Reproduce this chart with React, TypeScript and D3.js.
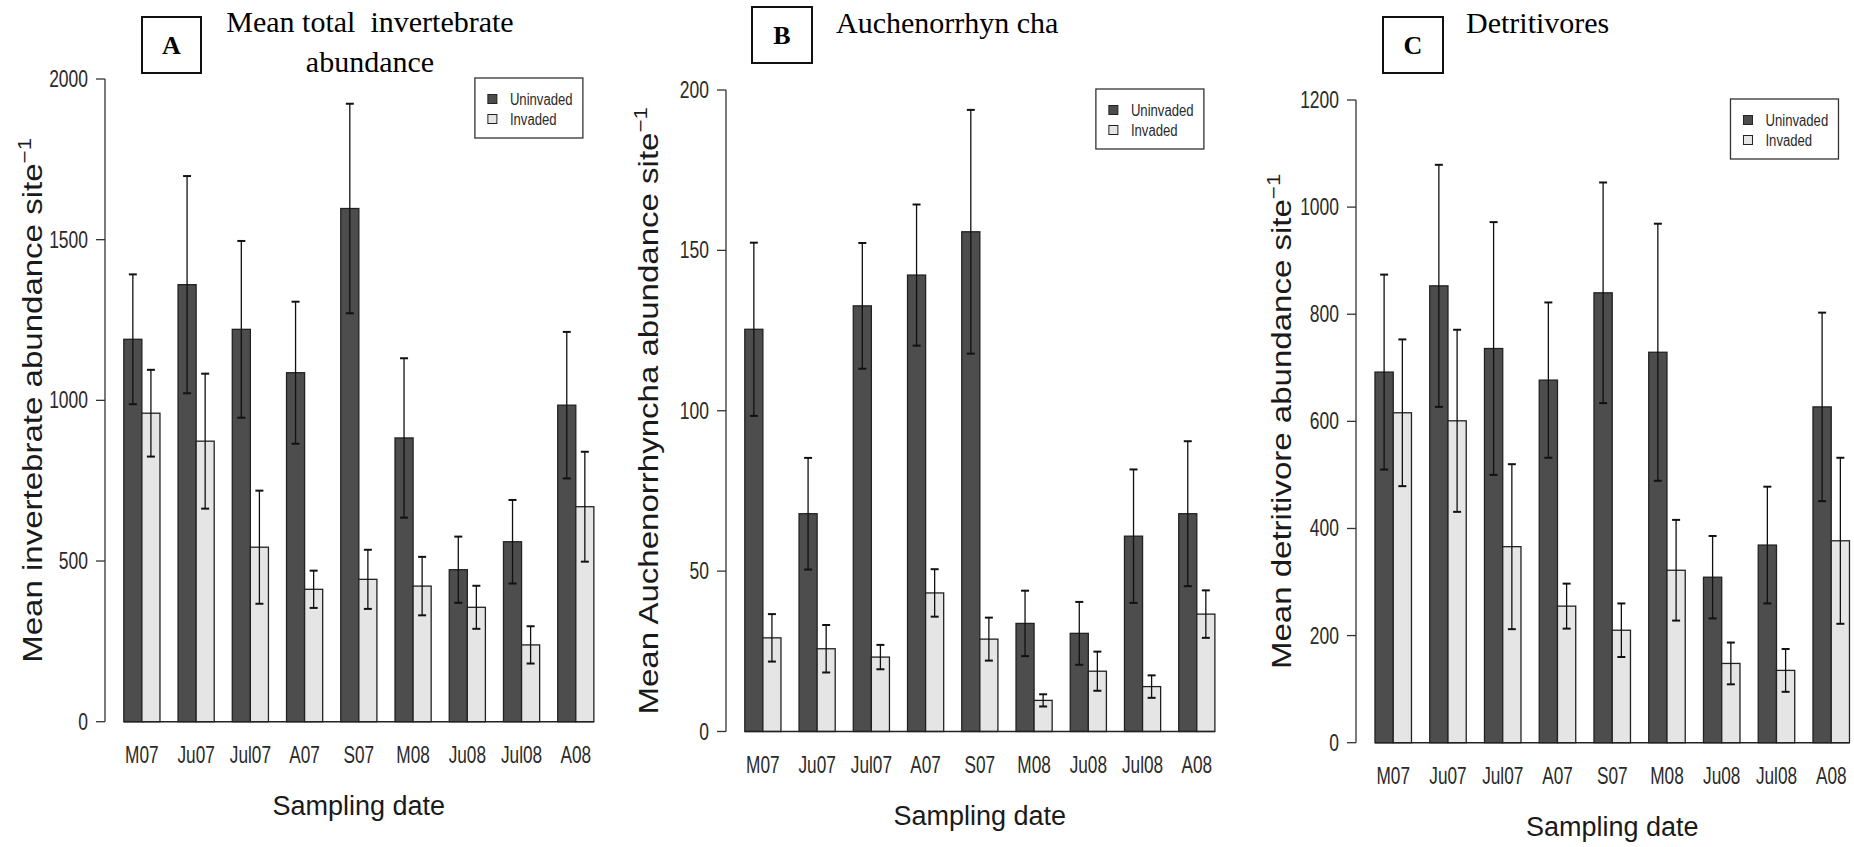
import React from "react";
import * as d3 from "d3";

// Sampling dates (x categories)
const dates = ["M07", "Ju07", "Jul07", "A07", "S07", "M08", "Ju08", "Jul08", "A08"];
const groups = ["Uninvaded", "Invaded"];

// Panel A: mean total invertebrate abundance per site (mean, SE)
const totalUninvaded = [1190, 1360, 1221, 1086, 1597, 883, 473, 560, 985];
const totalUninvadedSE = [202, 338, 275, 221, 326, 248, 103, 130, 228];
const totalInvaded = [960, 873, 543, 412, 443, 422, 356, 239, 669];
const totalInvadedSE = [135, 210, 176, 58, 92, 91, 67, 58, 171];
const totalTicks = [0, 500, 1000, 1500, 2000];

// Panel B: Auchenorrhyncha
const auchUninvaded = [125.4, 67.9, 132.7, 142.3, 155.8, 33.7, 30.6, 60.9, 67.9];
const auchUninvadedSE = [27, 17.4, 19.6, 22, 38, 10.2, 9.8, 20.8, 22.6];
const auchInvaded = [29.2, 25.8, 23.2, 43.2, 28.8, 9.7, 18.8, 14, 36.6];
const auchInvadedSE = [7.4, 7.4, 3.8, 7.4, 6.7, 1.9, 6.1, 3.5, 7.4];
const auchTicks = [0, 50, 100, 150, 200];

// Panel C: detritivores
const detUninvaded = [692, 853, 736, 677, 840, 729, 309, 369, 627];
const detUninvadedSE = [182, 226, 236, 145, 206, 240, 77, 109, 176];
const detInvaded = [616, 601, 366, 255, 210, 322, 148, 135, 377];
const detInvadedSE = [137, 170, 154, 42, 50, 94, 39, 40, 155];
const detTicks = [0, 200, 400, 600, 800, 1000, 1200];

const SANS = "'Liberation Sans', Arial, Helvetica, sans-serif";
const SERIF = "'Liberation Serif', 'Times New Roman', Times, serif";
const FILLS = ["#4d4d4d", "#e5e5e5"];
const INK = "#1a1a1a";

type Panel = {
  letter: string;
  titleLines: string[];
  titleX: number;
  titleAnchor: "start" | "middle";
  titleY: number[];
  box: [number, number, number, number];
  yLabel: string;
  axisX: number;
  unit: number;
  y0: number;
  yTop: number;
  yMax: number;
  ticks: number[];
  yLabelGap: number;
  series: number[][];
  errors: number[][];
};

const panels: Panel[] = [
  {
    letter: "A",
    titleLines: ["Mean total\u00a0 invertebrate", "abundance"],
    titleX: 370,
    titleAnchor: "middle",
    titleY: [32, 72],
    box: [142, 17, 59, 56],
    yLabel: "Mean invertebrate abundance site",
    axisX: 105,
    unit: 18.08,
    y0: 721.7,
    yTop: 79,
    yMax: 2000,
    ticks: totalTicks,
    yLabelGap: 63,
    series: [totalUninvaded, totalInvaded],
    errors: [totalUninvadedSE, totalInvadedSE],
  },
  {
    letter: "B",
    titleLines: ["Auchenorrhyn cha"],
    titleX: 836,
    titleAnchor: "start",
    titleY: [33],
    box: [752, 7, 60, 56],
    yLabel: "Mean Auchenorrhyncha abundance site",
    axisX: 726,
    unit: 18.08,
    y0: 731.5,
    yTop: 90,
    yMax: 200,
    ticks: auchTicks,
    yLabelGap: 68,
    series: [auchUninvaded, auchInvaded],
    errors: [auchUninvadedSE, auchInvadedSE],
  },
  {
    letter: "C",
    titleLines: ["Detritivores"],
    titleX: 1466,
    titleAnchor: "start",
    titleY: [33],
    box: [1383, 17, 60, 56],
    yLabel: "Mean detritivore abundance site",
    axisX: 1356,
    unit: 18.25,
    y0: 742.7,
    yTop: 100,
    yMax: 1200,
    ticks: detTicks,
    yLabelGap: 65,
    series: [detUninvaded, detInvaded],
    errors: [detUninvadedSE, detInvadedSE],
  },
];

function BarPanel({ p }: { p: Panel }) {
  const n = dates.length;
  // barplot-style layout: one bar width of space before each pair of bars
  const xMin = 1;
  const xMax = 3 * n;
  const pad = (xMax - xMin) * 0.04;
  const x = d3
    .scaleLinear()
    .domain([xMin - pad, xMax + pad])
    .range([p.axisX, p.axisX + (xMax - xMin + 2 * pad) * p.unit]);
  const y = d3.scaleLinear().domain([0, p.yMax]).range([p.y0, p.yTop]);

  const plotMidY = (y(0) + y(p.yMax)) / 2;
  const barsLeft = x(xMin);
  const barsRight = x(xMax);
  const cap = 4;

  const legendW = 108;
  const legendH = 60;
  const legendX = barsRight - 11 - legendW;
  const legendY = y(p.yMax) - 1;

  return (
    <g>
      {/* panel letter box */}
      <rect
        x={p.box[0]}
        y={p.box[1]}
        width={p.box[2]}
        height={p.box[3]}
        fill="#fff"
        stroke="#111"
        strokeWidth={2}
      />
      <text
        x={p.box[0] + p.box[2] / 2}
        y={p.box[1] + p.box[3] / 2 + 9}
        textAnchor="middle"
        fontFamily={SERIF}
        fontWeight="bold"
        fontSize={26}
        fill="#000"
      >
        {p.letter}
      </text>

      {/* title */}
      {p.titleLines.map((t, i) => (
        <text
          key={i}
          x={p.titleX}
          y={p.titleY[i]}
          textAnchor={p.titleAnchor}
          fontFamily={SERIF}
          fontSize={30}
          fill="#000"
          style={{ whiteSpace: "pre" }}
        >
          {t}
        </text>
      ))}

      {/* bars */}
      {dates.map((d, i) =>
        p.series.map((s, k) => {
          const x0 = x(1 + 3 * i + k);
          const x1 = x(2 + 3 * i + k);
          return (
            <rect
              key={`${d}-${k}`}
              x={x0}
              y={y(s[i])}
              width={x1 - x0}
              height={y(0) - y(s[i])}
              fill={FILLS[k]}
              stroke="#222"
              strokeWidth={1.3}
            />
          );
        })
      )}

      {/* baseline */}
      <line x1={barsLeft} x2={barsRight} y1={y(0)} y2={y(0)} stroke="#222" strokeWidth={1.5} />

      {/* error bars */}
      {dates.map((d, i) =>
        p.series.map((s, k) => {
          const cx = x(1.5 + 3 * i + k);
          const hi = y(s[i] + p.errors[k][i]);
          const lo = y(s[i] - p.errors[k][i]);
          return (
            <g key={`e-${d}-${k}`} stroke="#111" strokeWidth={1.3}>
              <line x1={cx} x2={cx} y1={hi} y2={lo} />
              <line x1={cx - cap} x2={cx + cap} y1={hi} y2={hi} strokeWidth={2} />
              <line x1={cx - cap} x2={cx + cap} y1={lo} y2={lo} strokeWidth={2} />
            </g>
          );
        })
      )}

      {/* y axis */}
      <line x1={p.axisX} x2={p.axisX} y1={y(0)} y2={y(p.yMax)} stroke="#333" strokeWidth={1.3} />
      {p.ticks.map((t) => (
        <g key={t}>
          <line x1={p.axisX - 9} x2={p.axisX} y1={y(t)} y2={y(t)} stroke="#333" strokeWidth={1.3} />
          <g transform={`translate(${p.axisX - 17},${y(t) + 8}) scale(0.76,1)`}>
            <text textAnchor="end" fontFamily={SANS} fontSize={23} fill="#2a2a2a">
              {t}
            </text>
          </g>
        </g>
      ))}

      {/* x tick labels */}
      {dates.map((d, i) => (
        <g key={`xl-${d}`} transform={`translate(${x(2 + 3 * i)},${y(0) + 41.5}) scale(0.75,1)`}>
          <text textAnchor="middle" fontFamily={SANS} fontSize={23} fill="#2a2a2a">
            {d}
          </text>
        </g>
      ))}

      {/* axis titles */}
      <text
        x={(barsLeft + barsRight) / 2}
        y={y(0) + 93}
        textAnchor="middle"
        fontFamily={SANS}
        fontSize={27}
        fill={INK}
      >
        Sampling date
      </text>
      <text
        transform={`translate(${p.axisX - p.yLabelGap},${plotMidY}) rotate(-90) scale(1.18,1)`}
        textAnchor="middle"
        fontFamily={SANS}
        fontSize={28}
        fill={INK}
      >
        {p.yLabel}
        <tspan dy={-11} fontSize={19}>
          {"\u22121"}
        </tspan>
      </text>

      {/* legend */}
      <rect
        x={legendX}
        y={legendY}
        width={legendW}
        height={legendH}
        fill="#fff"
        stroke="#333"
        strokeWidth={1.3}
      />
      {groups.map((g, k) => {
        const cy = legendY + 21 + k * 20;
        return (
          <g key={g}>
            <rect x={legendX + 13} y={cy - 4.5} width={9} height={9} fill={FILLS[k]} stroke="#222" strokeWidth={1} />
            <g transform={`translate(${legendX + 35},${cy + 6}) scale(0.82,1)`}>
              <text fontFamily={SANS} fontSize={16} fill="#2a2a2a">
                {g}
              </text>
            </g>
          </g>
        );
      })}
    </g>
  );
}

export default function App() {
  return (
    <svg
      width={1854}
      height={847}
      viewBox="0 0 1854 847"
      style={{ position: "absolute", left: 0, top: 0, background: "#fff" }}
    >
      <rect x={0} y={0} width={1854} height={847} fill="#fff" />
      {panels.map((p) => (
        <BarPanel key={p.letter} p={p} />
      ))}
    </svg>
  );
}
